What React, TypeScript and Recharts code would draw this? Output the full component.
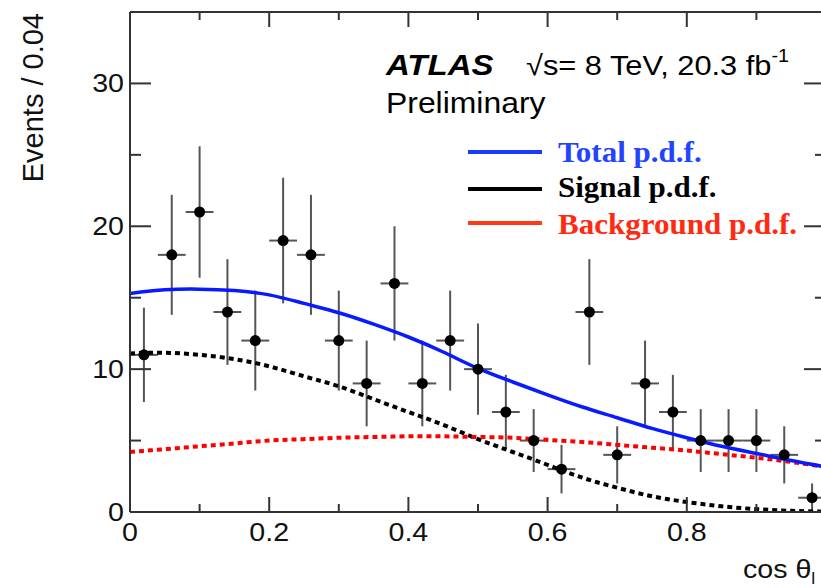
import React from 'react';
import { ComposedChart, Line, Scatter, ErrorBar, XAxis, YAxis } from 'recharts';

// measured data: cos theta bins, width 0.04
const binCenters = [0.02, 0.06, 0.10, 0.14, 0.18, 0.22, 0.26, 0.30, 0.34, 0.38, 0.42, 0.46, 0.50, 0.54, 0.58, 0.62, 0.66, 0.70, 0.74, 0.78, 0.82, 0.86, 0.90, 0.94, 0.98];
const eventCounts = [11, 18, 21, 14, 12, 19, 18, 12, 9, 16, 9, 12, 10, 7, 5, 3, 14, 4, 9, 7, 5, 5, 5, 4, 1];
const countErrors = [3.3, 4.2, 4.6, 3.7, 3.5, 4.4, 4.2, 3.5, 3.0, 4.0, 3.0, 3.5, 3.2, 2.6, 2.2, 1.7, 3.7, 2.0, 3.0, 2.6, 2.2, 2.2, 2.2, 2.0, 1.0];
const binHalfWidth = 0.02;

// fit curves
const curveX = [0, 0.05, 0.1, 0.15, 0.2, 0.25, 0.3, 0.35, 0.4, 0.45, 0.5, 0.55, 0.6, 0.65, 0.7, 0.75, 0.8, 0.85, 0.9, 0.95, 1.0];
const totalPdf = [15.3, 15.55, 15.6, 15.5, 15.2, 14.6, 13.95, 13.15, 12.25, 11.2, 10.05, 9.1, 8.2, 7.35, 6.6, 5.85, 5.2, 4.6, 4.1, 3.6, 3.15];
const signalPdf = [11.1, 11.15, 11.0, 10.7, 10.2, 9.5, 8.8, 7.9, 7.0, 6.1, 5.1, 4.2, 3.3, 2.4, 1.7, 1.1, 0.7, 0.4, 0.2, 0.08, 0.02];
const backgroundPdf = [4.2, 4.4, 4.6, 4.8, 5.0, 5.1, 5.2, 5.25, 5.3, 5.3, 5.25, 5.2, 5.05, 4.9, 4.7, 4.5, 4.3, 4.05, 3.8, 3.5, 3.15];

const xTicks = [0, 0.1, 0.2, 0.3, 0.4, 0.5, 0.6, 0.7, 0.8, 0.9, 1.0];
const xLabels: Record<string, string> = { '0': '0', '0.2': '0.2', '0.4': '0.4', '0.6': '0.6', '0.8': '0.8' };
const xMajor = [0, 0.2, 0.4, 0.6, 0.8, 1.0];
const yTicks = [0, 5, 10, 15, 20, 25, 30, 35];
const yLabels: Record<string, string> = { '0': '0', '10': '10', '20': '20', '30': '30' };

const points = binCenters.map((x, i) => ({ x, y: eventCounts[i], ey: countErrors[i], ex: binHalfWidth }));
const curves = curveX.map((x, i) => ({ x, total: totalPdf[i], signal: signalPdf[i], background: backgroundPdf[i] }));

const FONT = '"Liberation Sans", Arial, Helvetica, sans-serif';
const SERIF = '"Liberation Serif", "Times New Roman", serif';
const AXIS = '#333';

// text drawn with a slight horizontal stretch (glyphs in the original are a bit wide)
const SText = ({ x, y, sx = 1.1, children, ...rest }: any) => (
  <g transform={`translate(${x} ${y}) scale(${sx} 1)`}>
    <text x={0} y={0} {...rest}>{children}</text>
  </g>
);

const BottomTick = (p: any) => {
  const label = xLabels[String(p.payload.value)];
  const len = xMajor.includes(p.payload.value) ? 15 : 8;
  return (
    <g>
      <line x1={p.x} x2={p.x} y1={p.y} y2={p.y - len} stroke={AXIS} strokeWidth={2} />
      {label !== undefined && (
        <SText x={p.x} y={p.y + 29} textAnchor="middle" fontSize={26} fontFamily={FONT} fill="#111">{label}</SText>
      )}
    </g>
  );
};

const TopTick = (p: any) => {
  const len = xMajor.includes(p.payload.value) ? 15 : 8;
  return <line x1={p.x} x2={p.x} y1={p.y} y2={p.y + len} stroke={AXIS} strokeWidth={2} />;
};

const LeftTick = (p: any) => {
  const label = yLabels[String(p.payload.value)];
  const len = label !== undefined ? 21 : 11;
  return (
    <g>
      <line x1={p.x} x2={p.x + len} y1={p.y} y2={p.y} stroke={AXIS} strokeWidth={2} />
      {label !== undefined && (
        <SText x={p.x - 6} y={p.y + 9} textAnchor="end" fontSize={26} fontFamily={FONT} fill="#111">{label}</SText>
      )}
    </g>
  );
};

const RightTick = (p: any) => {
  const len = yLabels[String(p.payload.value)] !== undefined ? 22 : 11;
  return <line x1={p.x} x2={p.x - len} y1={p.y} y2={p.y} stroke={AXIS} strokeWidth={2} />;
};

const Dot = (p: any) => <circle cx={p.cx} cy={p.cy} r={5.5} fill="#000" />;

export default function App() {
  return (
    <div style={{ position: 'absolute', left: 0, top: 0, width: 821, height: 588, overflow: 'hidden', background: '#fff' }}>
      <ComposedChart width={850} height={588} margin={{ top: 11, right: 23, bottom: 75, left: 129 }}>
        <XAxis xAxisId="b" dataKey="x" type="number" domain={[0, 1]} ticks={xTicks} interval={0}
          height={1} tickSize={0} tickMargin={0} tickLine={false} tick={<BottomTick />}
          axisLine={{ stroke: AXIS, strokeWidth: 2 }} allowDataOverflow />
        <XAxis xAxisId="t" orientation="top" dataKey="x" type="number" domain={[0, 1]} ticks={xTicks} interval={0}
          height={1} tickSize={0} tickMargin={0} tickLine={false} tick={<TopTick />}
          axisLine={{ stroke: AXIS, strokeWidth: 2 }} allowDataOverflow />
        <YAxis yAxisId="l" type="number" domain={[0, 35]} ticks={yTicks} interval={0}
          width={1} tickSize={0} tickMargin={0} tickLine={false} tick={<LeftTick />}
          axisLine={{ stroke: AXIS, strokeWidth: 2 }} allowDataOverflow />
        <YAxis yAxisId="r" orientation="right" type="number" domain={[0, 35]} ticks={yTicks} interval={0}
          width={1} tickSize={0} tickMargin={0} tickLine={false} tick={<RightTick />}
          axisLine={{ stroke: AXIS, strokeWidth: 2 }} allowDataOverflow />
        <Scatter xAxisId="b" yAxisId="l" data={points} dataKey="y" shape={<Dot />} isAnimationActive={false}>
          <ErrorBar dataKey="ey" direction="y" width={0} stroke="#555" strokeWidth={2} />
          <ErrorBar dataKey="ex" direction="x" width={0} stroke="#555" strokeWidth={2} />
        </Scatter>
        <Line xAxisId="b" yAxisId="l" data={curves} dataKey="signal" type="natural" stroke="#000" strokeWidth={4}
          strokeDasharray="5 4" dot={false} activeDot={false} isAnimationActive={false} />
        <Line xAxisId="b" yAxisId="l" data={curves} dataKey="background" type="natural" stroke="#ff0000" strokeWidth={4}
          strokeDasharray="5 4" dot={false} activeDot={false} isAnimationActive={false} />
        <Line xAxisId="b" yAxisId="l" data={curves} dataKey="total" type="natural" stroke="#0a1aff" strokeWidth={3.5}
          dot={false} activeDot={false} isAnimationActive={false} />
      </ComposedChart>
      <svg width={821} height={588} style={{ position: 'absolute', left: 0, top: 0, pointerEvents: 'none' }}>
        <text x={43} y={13} transform="rotate(-90 43 13)" textAnchor="end" fontSize={29} fontFamily={FONT} fill="#111">Events / 0.04</text>
        <SText x={743} y={578} fontSize={26} fontFamily={FONT} fill="#111">
          cos θ<tspan fontSize={16} dy={6}>l</tspan>
        </SText>
        <SText x={386} y={75} fontSize={30} fontWeight="bold" fontStyle="italic" fontFamily={FONT} fill="#000">ATLAS</SText>
        <SText x={526} y={75} fontSize={28} fontFamily={FONT} fill="#000">
          √s= 8 TeV, 20.3 fb<tspan fontSize={18} dy={-13}>-1</tspan>
        </SText>
        <SText x={386} y={113} fontSize={29} fontFamily={FONT} fill="#000">Preliminary</SText>
        <line x1={468} x2={542} y1={152} y2={152} stroke="#1a3cff" strokeWidth={4} />
        <line x1={468} x2={542} y1={189} y2={189} stroke="#000" strokeWidth={4} />
        <line x1={468} x2={542} y1={223} y2={223} stroke="#ff3a1a" strokeWidth={4} />
        <SText x={558} y={162} sx={1.07} fontFamily={SERIF} fontWeight="bold" fontSize={29} fill="#2244ff">Total p.d.f.</SText>
        <SText x={558} y={197} sx={1.07} fontFamily={SERIF} fontWeight="bold" fontSize={29} fill="#000">Signal p.d.f.</SText>
        <SText x={558} y={234} sx={1.07} fontFamily={SERIF} fontWeight="bold" fontSize={29} fill="#ff2a10">Background p.d.f.</SText>
      </svg>
    </div>
  );
}
